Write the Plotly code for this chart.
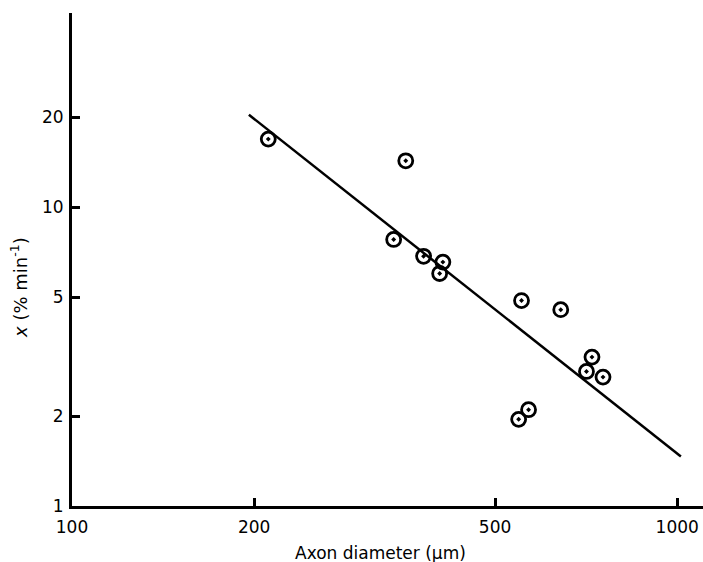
import plotly.graph_objects as go
import math

# Data (log-log)
axon_diameter = [211, 356, 340, 381, 410, 405, 553, 642, 723, 708, 754, 568, 547]
rate = [16.9, 14.3, 7.8, 6.85, 6.55, 6.0, 4.87, 4.54, 3.15, 2.82, 2.70, 2.10, 1.95]

fit_x = [196, 1014]
fit_y = [20.4, 1.465]

x_ticks = [100, 200, 500, 1000]
y_ticks = [1, 2, 5, 10, 20]

FONT = "DejaVu Sans"

fig = go.Figure()
fig.add_trace(go.Scatter(x=fit_x, y=fit_y, mode="lines",
                         line=dict(color="black", width=2.5), showlegend=False))
fig.add_trace(go.Scatter(x=axon_diameter, y=rate, mode="markers",
                         marker=dict(symbol="circle-open-dot", size=14, color="black",
                                     line=dict(width=2.8, color="black")),
                         showlegend=False))

fig.update_layout(
    width=703, height=562,
    margin=dict(l=72, r=0, t=13, b=56),
    paper_bgcolor="white", plot_bgcolor="white",
    font=dict(family=FONT, color="black", size=17),
    xaxis=dict(type="log", range=[2, math.log10(1103)],
               tickvals=x_ticks, ticktext=[str(v) for v in x_ticks],
               ticks="inside", ticklen=8, tickwidth=2.5, tickcolor="black",
               showline=True, linewidth=3, linecolor="black",
               showgrid=False, zeroline=False, ticklabelstandoff=4,
               tickfont=dict(size=17)),
    yaxis=dict(type="log", range=[0, 1.65],
               tickvals=y_ticks, ticktext=[str(v) for v in y_ticks],
               ticks="inside", ticklen=8, tickwidth=2.5, tickcolor="black",
               showline=True, linewidth=3, linecolor="black",
               showgrid=False, zeroline=False, ticklabelstandoff=2,
               tickfont=dict(size=17)),
    annotations=[
        dict(text="Axon diameter (μm)", xref="paper", yref="paper",
             x=0.4895, y=-0.0947, xanchor="center", yanchor="middle",
             showarrow=False, font=dict(size=17)),
        dict(text="<i>x</i> (% min<sup>-1</sup>)", xref="paper", yref="paper",
             x=-0.083, y=0.4435, xanchor="center", yanchor="middle",
             textangle=-90, showarrow=False, font=dict(size=18)),
    ],
)

fig.write_html("out.html")
